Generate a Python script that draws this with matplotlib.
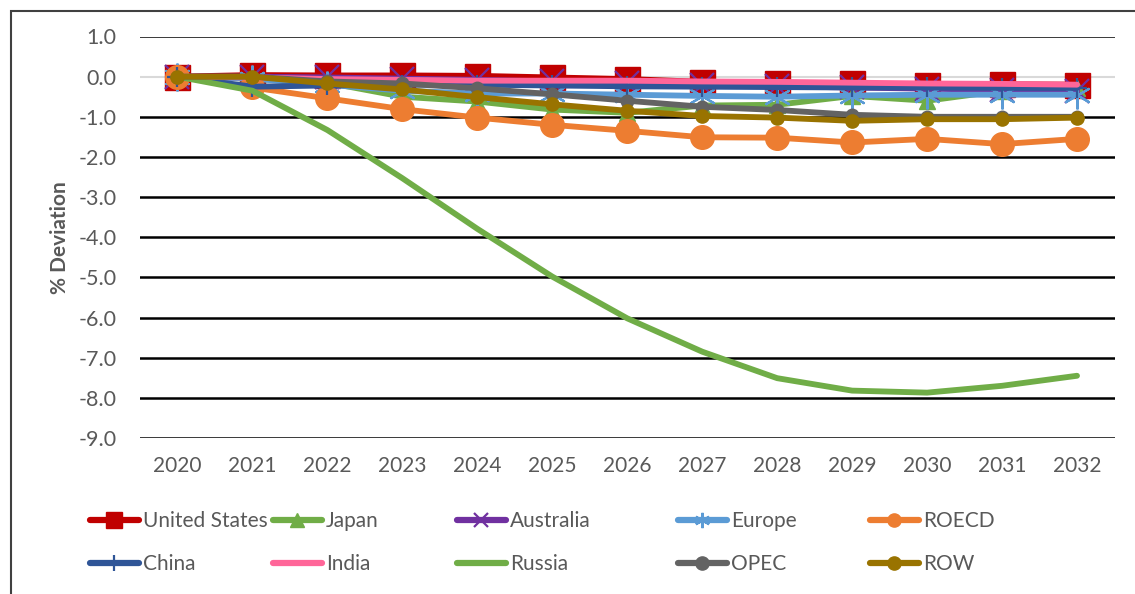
import matplotlib
matplotlib.use("Agg")
import matplotlib.pyplot as plt
from matplotlib.lines import Line2D
from matplotlib.patches import Rectangle

# ---- data -------------------------------------------------------------
years = ["2020", "2021", "2022", "2023", "2024", "2025", "2026",
         "2027", "2028", "2029", "2030", "2031", "2032"]

united_states = [0.0, 0.04, 0.03, 0.03, 0.02, -0.02, -0.06, -0.13, -0.16, -0.17, -0.21, -0.19, -0.20]
japan = [0.0, -0.05, -0.15, -0.50, -0.62, -0.82, -0.90, -0.72, -0.70, -0.48, -0.60, -0.35, -0.28]
australia = [0.0, 0.0, -0.02, -0.05, -0.08, -0.12, -0.17, -0.20, -0.24, -0.27, -0.30, -0.33, -0.35]
europe = [0.0, -0.05, -0.20, -0.35, -0.42, -0.42, -0.45, -0.48, -0.50, -0.47, -0.45, -0.45, -0.45]
roecd = [0.0, -0.27, -0.54, -0.81, -1.02, -1.20, -1.35, -1.51, -1.52, -1.64, -1.55, -1.68, -1.55]
china = [0.0, -0.25, -0.22, -0.20, -0.20, -0.22, -0.24, -0.25, -0.26, -0.27, -0.27, -0.28, -0.28]
india = [0.0, -0.02, -0.06, -0.08, -0.10, -0.10, -0.10, -0.12, -0.13, -0.15, -0.17, -0.18, -0.20]
russia = [0.0, -0.35, -1.33, -2.53, -3.79, -4.98, -6.02, -6.85, -7.51, -7.82, -7.87, -7.70, -7.45]
opec = [0.0, 0.0, -0.12, -0.17, -0.29, -0.44, -0.60, -0.75, -0.83, -0.95, -1.00, -1.00, -1.00]
row = [0.0, 0.0, -0.17, -0.32, -0.51, -0.69, -0.85, -0.98, -1.02, -1.10, -1.06, -1.06, -1.02]

y_ticks = [1.0, 0.0, -1.0, -2.0, -3.0, -4.0, -5.0, -6.0, -7.0, -8.0, -9.0]

# ---- styling ----------------------------------------------------------
W, H, DPI = 1135, 594, 100
TXT = "#595959"
FONT = "Lato"
LW = 4.2

series = [
    # label, values, color, marker, size, marker edge width, legend marker size
    ("United States", united_states, "#C00000", "s", 18, 1.0, 11),
    ("Japan", japan, "#70AD47", "^", 12, 1.0, 10),
    ("Australia", australia, "#7030A0", "x", 17, 1.6, 10),
    ("Europe", europe, "#5B9BD5", (6, 2, 0), 20, 1.6, 11),
    ("ROECD", roecd, "#ED7D31", "o", 17, 1.0, 9.5),
    ("China", china, "#2F5597", "+", 14, 1.6, 12),
    ("India", india, "#FF6699", None, 0, 0, 0),
    ("Russia", russia, "#70AD47", None, 0, 0, 0),
    ("OPEC", opec, "#636363", "o", 9, 1.0, 9.5),
    ("ROW", row, "#997300", "o", 9.5, 1.0, 9.5),
]

fig = plt.figure(figsize=(W / DPI, H / DPI), dpi=DPI)
fig.patch.set_facecolor("white")

left, right = 140 / W, 1114.5 / W
bottom, top = 1 - 438 / H, 1 - 36.5 / H
ax = fig.add_axes([left, bottom, right - left, top - bottom])

x = list(range(len(years)))

# horizontal gridlines (the zero line is the pale category axis)
for v in y_ticks:
    if v == 0.0:
        ax.axhline(v, color="#D9D9D9", lw=1.5, zorder=1)
    else:
        ax.axhline(v, color="black", lw=1.8, zorder=1)

for i, (label, vals, color, marker, ms, mew, _) in enumerate(series):
    ax.plot(x, vals, color=color, lw=LW, marker=marker, markersize=ms,
            markeredgewidth=mew, markeredgecolor=color, markerfacecolor=color,
            solid_joinstyle="round", solid_capstyle="round",
            zorder=3 + i)

ax.set_xlim(-0.5, len(years) - 0.5)
ax.set_ylim(-9.0, 1.0)
ax.set_xticks(x)
ax.set_xticklabels(years, fontsize=15, color=TXT, family=FONT)
ax.set_yticks(y_ticks)
ax.set_yticklabels([f"{v:.1f}" for v in y_ticks], fontsize=15.5, color=TXT,
                   family=FONT)
ax.tick_params(axis="both", length=0)
ax.tick_params(axis="y", pad=17)
ax.tick_params(axis="x", pad=13)
for s in ax.spines.values():
    s.set_visible(False)

ax.set_ylabel("% Deviation", fontsize=15, fontweight="bold", color=TXT,
              family=FONT, labelpad=6)

# legend: two rows of five entries
col_x = [90, 273, 457, 678, 870]
row_y = [521, 564]
for i, (label, vals, color, marker, ms, mew, lms) in enumerate(series):
    r, c = divmod(i, 5)
    handle = Line2D([], [], color=color, lw=4.5, marker=marker,
                    markersize=lms, markeredgewidth=mew,
                    markeredgecolor=color, markerfacecolor=color,
                    solid_capstyle="round")
    fig.legend(handles=[handle], labels=[label], loc="center left",
               bbox_to_anchor=(col_x[c] / W, 1 - row_y[r] / H),
               frameon=False, borderpad=0, borderaxespad=0,
               handlelength=2.35, handletextpad=0.2,
               prop={"family": FONT, "size": 15}, labelcolor=TXT)

# chart-area border
fig.add_artist(Rectangle((10.5 / W, -0.2), 1.2, 1.2 - 10.5 / H,
                         transform=fig.transFigure, fill=False,
                         edgecolor="#404040", lw=1.5, clip_on=False))

fig.savefig("out.png", dpi=DPI, facecolor="white")
